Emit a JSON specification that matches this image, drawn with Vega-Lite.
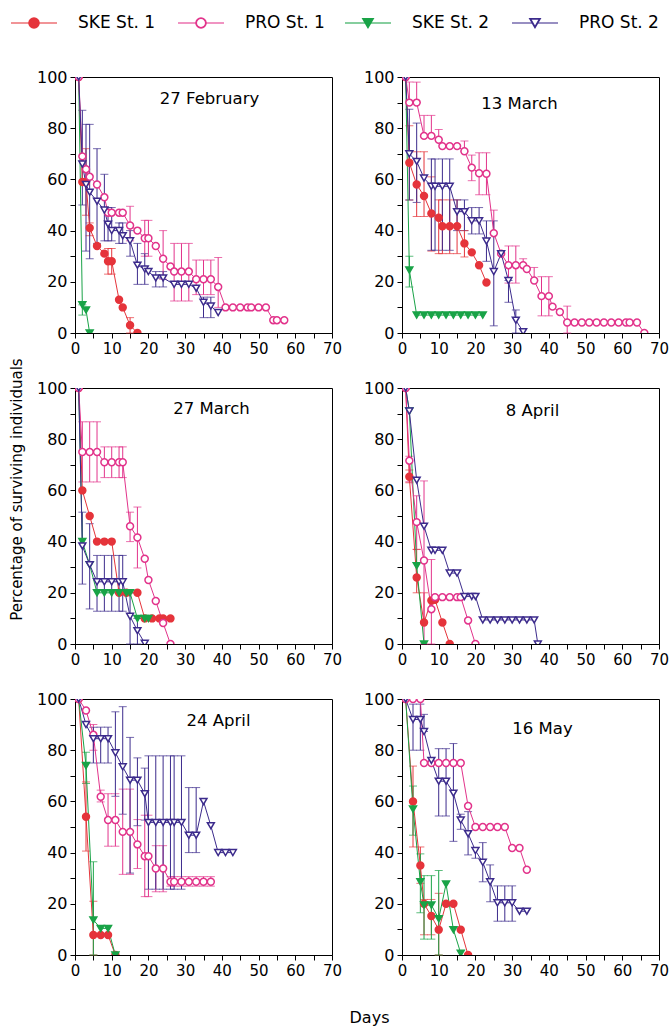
{
  "$schema": "https://vega.github.io/schema/vega-lite/v6.json",
  "padding": {"left": 8, "top": 14, "right": 8, "bottom": 4},
  "config": {
    "font": "DejaVu Sans",
    "view": {"stroke": "#000000", "strokeWidth": 1},
    "axis": {"domainColor": "#000000", "tickColor": "#000000", "labelColor": "#000000", "grid": false, "tickSize": 5, "labelFont": "DejaVu Sans", "labelFontSize": 15, "labelPadding": 3, "labelFlush": false, "labelOverlap": false, "titleFont": "DejaVu Sans", "titleFontSize": 15, "titleFontWeight": "normal", "titleColor": "#000000"},
    "axisY": {"labelFontSize": 16},
    "title": {"font": "DejaVu Sans", "fontSize": 16.5, "fontWeight": "normal", "color": "#000000", "anchor": "middle", "frame": "group", "baseline": "middle"}
  },
  "datasets": {
    "keys": [{"s": "SKE St. 1"}, {"s": "PRO St. 1"}, {"s": "SKE St. 2"}, {"s": "PRO St. 2"}],
    "surv": [
      {"p":"27 February","s":"SKE St. 1","d":1,"v":100},
      {"p":"27 February","s":"SKE St. 1","d":2,"v":59},
      {"p":"27 February","s":"SKE St. 1","d":3,"v":59,"lo":46,"hi":72},
      {"p":"27 February","s":"SKE St. 1","d":4,"v":41,"lo":38,"hi":43},
      {"p":"27 February","s":"SKE St. 1","d":6,"v":34},
      {"p":"27 February","s":"SKE St. 1","d":8,"v":31},
      {"p":"27 February","s":"SKE St. 1","d":9,"v":28,"lo":23,"hi":33},
      {"p":"27 February","s":"SKE St. 1","d":10,"v":28,"lo":23,"hi":33},
      {"p":"27 February","s":"SKE St. 1","d":12,"v":13},
      {"p":"27 February","s":"SKE St. 1","d":13,"v":10},
      {"p":"27 February","s":"SKE St. 1","d":15,"v":3,"lo":0,"hi":6},
      {"p":"27 February","s":"SKE St. 1","d":17,"v":0},
      {"p":"27 February","s":"SKE St. 2","d":1,"v":100},
      {"p":"27 February","s":"SKE St. 2","d":2,"v":11,"lo":7,"hi":11},
      {"p":"27 February","s":"SKE St. 2","d":3,"v":9},
      {"p":"27 February","s":"SKE St. 2","d":4,"v":0},
      {"p":"27 February","s":"PRO St. 1","d":1,"v":100},
      {"p":"27 February","s":"PRO St. 1","d":2,"v":69},
      {"p":"27 February","s":"PRO St. 1","d":3,"v":64},
      {"p":"27 February","s":"PRO St. 1","d":4,"v":61},
      {"p":"27 February","s":"PRO St. 1","d":6,"v":58},
      {"p":"27 February","s":"PRO St. 1","d":8,"v":53},
      {"p":"27 February","s":"PRO St. 1","d":9,"v":47},
      {"p":"27 February","s":"PRO St. 1","d":10,"v":47},
      {"p":"27 February","s":"PRO St. 1","d":12,"v":47},
      {"p":"27 February","s":"PRO St. 1","d":13,"v":47},
      {"p":"27 February","s":"PRO St. 1","d":15,"v":42,"lo":36,"hi":49.5},
      {"p":"27 February","s":"PRO St. 1","d":17,"v":40},
      {"p":"27 February","s":"PRO St. 1","d":19,"v":37,"lo":30,"hi":44},
      {"p":"27 February","s":"PRO St. 1","d":20,"v":37,"lo":30,"hi":44},
      {"p":"27 February","s":"PRO St. 1","d":22,"v":34},
      {"p":"27 February","s":"PRO St. 1","d":24,"v":29,"lo":21,"hi":40},
      {"p":"27 February","s":"PRO St. 1","d":26,"v":26},
      {"p":"27 February","s":"PRO St. 1","d":27,"v":24,"lo":12.5,"hi":35},
      {"p":"27 February","s":"PRO St. 1","d":29,"v":24,"lo":12.5,"hi":35},
      {"p":"27 February","s":"PRO St. 1","d":31,"v":24,"lo":12.5,"hi":35},
      {"p":"27 February","s":"PRO St. 1","d":33,"v":21,"lo":15,"hi":28.5},
      {"p":"27 February","s":"PRO St. 1","d":35,"v":21,"lo":15,"hi":28.5},
      {"p":"27 February","s":"PRO St. 1","d":37,"v":21,"lo":15,"hi":28.5},
      {"p":"27 February","s":"PRO St. 1","d":39,"v":18,"lo":10,"hi":29.5},
      {"p":"27 February","s":"PRO St. 1","d":41,"v":10},
      {"p":"27 February","s":"PRO St. 1","d":43,"v":10},
      {"p":"27 February","s":"PRO St. 1","d":45,"v":10},
      {"p":"27 February","s":"PRO St. 1","d":47,"v":10},
      {"p":"27 February","s":"PRO St. 1","d":48,"v":10},
      {"p":"27 February","s":"PRO St. 1","d":50,"v":10},
      {"p":"27 February","s":"PRO St. 1","d":52,"v":10},
      {"p":"27 February","s":"PRO St. 1","d":54,"v":5},
      {"p":"27 February","s":"PRO St. 1","d":55,"v":5},
      {"p":"27 February","s":"PRO St. 1","d":57,"v":5},
      {"p":"27 February","s":"PRO St. 2","d":1,"v":100},
      {"p":"27 February","s":"PRO St. 2","d":2,"v":66,"lo":50,"hi":87},
      {"p":"27 February","s":"PRO St. 2","d":3,"v":58,"lo":32,"hi":81.5},
      {"p":"27 February","s":"PRO St. 2","d":4,"v":55,"lo":29,"hi":81.5},
      {"p":"27 February","s":"PRO St. 2","d":6,"v":51.5,"lo":35,"hi":72},
      {"p":"27 February","s":"PRO St. 2","d":8,"v":48,"lo":36,"hi":62},
      {"p":"27 February","s":"PRO St. 2","d":9,"v":42.5,"lo":36,"hi":49},
      {"p":"27 February","s":"PRO St. 2","d":10,"v":40,"lo":36,"hi":49},
      {"p":"27 February","s":"PRO St. 2","d":12,"v":40,"lo":35,"hi":43},
      {"p":"27 February","s":"PRO St. 2","d":13,"v":38,"lo":35,"hi":43},
      {"p":"27 February","s":"PRO St. 2","d":15,"v":36,"lo":30,"hi":40},
      {"p":"27 February","s":"PRO St. 2","d":17,"v":26.5,"lo":19,"hi":35},
      {"p":"27 February","s":"PRO St. 2","d":19,"v":25,"lo":19,"hi":31},
      {"p":"27 February","s":"PRO St. 2","d":20,"v":24},
      {"p":"27 February","s":"PRO St. 2","d":22,"v":21.5,"lo":18,"hi":24},
      {"p":"27 February","s":"PRO St. 2","d":24,"v":21.5,"lo":18,"hi":24},
      {"p":"27 February","s":"PRO St. 2","d":27,"v":19},
      {"p":"27 February","s":"PRO St. 2","d":29,"v":19},
      {"p":"27 February","s":"PRO St. 2","d":31,"v":19},
      {"p":"27 February","s":"PRO St. 2","d":33,"v":17.5},
      {"p":"27 February","s":"PRO St. 2","d":35,"v":12,"lo":6,"hi":14},
      {"p":"27 February","s":"PRO St. 2","d":37,"v":10.5,"lo":6,"hi":14},
      {"p":"27 February","s":"PRO St. 2","d":39,"v":8},

      {"p":"13 March","s":"SKE St. 1","d":1,"v":100},
      {"p":"13 March","s":"SKE St. 1","d":2,"v":66.5,"lo":52,"hi":81},
      {"p":"13 March","s":"SKE St. 1","d":4,"v":58,"lo":45.5,"hi":70.8},
      {"p":"13 March","s":"SKE St. 1","d":6,"v":53.5,"lo":45.5,"hi":70.8},
      {"p":"13 March","s":"SKE St. 1","d":8,"v":46.7,"lo":32,"hi":61},
      {"p":"13 March","s":"SKE St. 1","d":10,"v":45,"lo":31,"hi":52},
      {"p":"13 March","s":"SKE St. 1","d":11,"v":41.7,"lo":31,"hi":52},
      {"p":"13 March","s":"SKE St. 1","d":13,"v":41.7,"lo":31,"hi":52},
      {"p":"13 March","s":"SKE St. 1","d":15,"v":41.7,"lo":31,"hi":52},
      {"p":"13 March","s":"SKE St. 1","d":17,"v":35,"lo":29.7,"hi":40},
      {"p":"13 March","s":"SKE St. 1","d":19,"v":31.5},
      {"p":"13 March","s":"SKE St. 1","d":21,"v":26.5},
      {"p":"13 March","s":"SKE St. 1","d":23,"v":19.7},
      {"p":"13 March","s":"SKE St. 2","d":1,"v":100},
      {"p":"13 March","s":"SKE St. 2","d":2,"v":24.6,"lo":18,"hi":30},
      {"p":"13 March","s":"SKE St. 2","d":4,"v":7},
      {"p":"13 March","s":"SKE St. 2","d":6,"v":7},
      {"p":"13 March","s":"SKE St. 2","d":8,"v":7},
      {"p":"13 March","s":"SKE St. 2","d":10,"v":7},
      {"p":"13 March","s":"SKE St. 2","d":12,"v":7},
      {"p":"13 March","s":"SKE St. 2","d":14,"v":7},
      {"p":"13 March","s":"SKE St. 2","d":16,"v":7},
      {"p":"13 March","s":"SKE St. 2","d":18,"v":7},
      {"p":"13 March","s":"SKE St. 2","d":20,"v":7},
      {"p":"13 March","s":"SKE St. 2","d":22,"v":7},
      {"p":"13 March","s":"PRO St. 1","d":1,"v":100},
      {"p":"13 March","s":"PRO St. 1","d":2,"v":90,"lo":90,"hi":98},
      {"p":"13 March","s":"PRO St. 1","d":4,"v":90,"lo":90,"hi":98},
      {"p":"13 March","s":"PRO St. 1","d":6,"v":77,"lo":77,"hi":85},
      {"p":"13 March","s":"PRO St. 1","d":8,"v":77,"lo":77,"hi":85},
      {"p":"13 March","s":"PRO St. 1","d":10,"v":75.5,"lo":75.5,"hi":79.5},
      {"p":"13 March","s":"PRO St. 1","d":11,"v":73},
      {"p":"13 March","s":"PRO St. 1","d":13,"v":73},
      {"p":"13 March","s":"PRO St. 1","d":15,"v":73},
      {"p":"13 March","s":"PRO St. 1","d":17,"v":71,"lo":71,"hi":75},
      {"p":"13 March","s":"PRO St. 1","d":19,"v":64.6,"lo":59.5,"hi":69.5},
      {"p":"13 March","s":"PRO St. 1","d":21,"v":62.4,"lo":54,"hi":70.4},
      {"p":"13 March","s":"PRO St. 1","d":23,"v":62.2,"lo":54,"hi":70.4},
      {"p":"13 March","s":"PRO St. 1","d":25,"v":39,"lo":39,"hi":48},
      {"p":"13 March","s":"PRO St. 1","d":27,"v":31},
      {"p":"13 March","s":"PRO St. 1","d":29,"v":26.5,"lo":19.5,"hi":34},
      {"p":"13 March","s":"PRO St. 1","d":31,"v":26.5,"lo":19.5,"hi":34},
      {"p":"13 March","s":"PRO St. 1","d":33,"v":26.5,"lo":26.5,"hi":29},
      {"p":"13 March","s":"PRO St. 1","d":34,"v":25},
      {"p":"13 March","s":"PRO St. 1","d":36,"v":20.5,"lo":20.5,"hi":25.6},
      {"p":"13 March","s":"PRO St. 1","d":38,"v":14.4,"lo":6.7,"hi":22},
      {"p":"13 March","s":"PRO St. 1","d":40,"v":14.4,"lo":6.7,"hi":22},
      {"p":"13 March","s":"PRO St. 1","d":41,"v":10.3},
      {"p":"13 March","s":"PRO St. 1","d":43,"v":8.2},
      {"p":"13 March","s":"PRO St. 1","d":45,"v":4.1,"lo":0,"hi":10.5},
      {"p":"13 March","s":"PRO St. 1","d":47,"v":4.1},
      {"p":"13 March","s":"PRO St. 1","d":49,"v":4.1},
      {"p":"13 March","s":"PRO St. 1","d":51,"v":4.1},
      {"p":"13 March","s":"PRO St. 1","d":53,"v":4.1},
      {"p":"13 March","s":"PRO St. 1","d":55,"v":4.1},
      {"p":"13 March","s":"PRO St. 1","d":57,"v":4.1},
      {"p":"13 March","s":"PRO St. 1","d":59,"v":4.1},
      {"p":"13 March","s":"PRO St. 1","d":61,"v":4.1},
      {"p":"13 March","s":"PRO St. 1","d":62,"v":4.1},
      {"p":"13 March","s":"PRO St. 1","d":64,"v":4.1},
      {"p":"13 March","s":"PRO St. 1","d":66,"v":0},
      {"p":"13 March","s":"PRO St. 2","d":1,"v":100},
      {"p":"13 March","s":"PRO St. 2","d":2,"v":70,"lo":52,"hi":87.4},
      {"p":"13 March","s":"PRO St. 2","d":4,"v":67,"lo":51,"hi":82},
      {"p":"13 March","s":"PRO St. 2","d":6,"v":60.5},
      {"p":"13 March","s":"PRO St. 2","d":8,"v":57.3,"lo":32.3,"hi":68},
      {"p":"13 March","s":"PRO St. 2","d":9,"v":57.3,"lo":32.3,"hi":68},
      {"p":"13 March","s":"PRO St. 2","d":11,"v":57.3,"lo":32.3,"hi":68},
      {"p":"13 March","s":"PRO St. 2","d":13,"v":57.3,"lo":32.3,"hi":68},
      {"p":"13 March","s":"PRO St. 2","d":15,"v":47.4,"lo":40,"hi":52},
      {"p":"13 March","s":"PRO St. 2","d":17,"v":47.4,"lo":40,"hi":52},
      {"p":"13 March","s":"PRO St. 2","d":19,"v":43.8,"lo":38.7,"hi":49},
      {"p":"13 March","s":"PRO St. 2","d":21,"v":43.8,"lo":38.7,"hi":49},
      {"p":"13 March","s":"PRO St. 2","d":23,"v":35.9,"lo":28,"hi":43.8},
      {"p":"13 March","s":"PRO St. 2","d":25,"v":24,"lo":2.8,"hi":43.8},
      {"p":"13 March","s":"PRO St. 2","d":27,"v":31},
      {"p":"13 March","s":"PRO St. 2","d":29,"v":20.5,"lo":12,"hi":20.5},
      {"p":"13 March","s":"PRO St. 2","d":31,"v":5,"lo":0,"hi":9},
      {"p":"13 March","s":"PRO St. 2","d":33,"v":0.5},

      {"p":"27 March","s":"SKE St. 1","d":1,"v":100},
      {"p":"27 March","s":"SKE St. 1","d":2,"v":60},
      {"p":"27 March","s":"SKE St. 1","d":4,"v":50},
      {"p":"27 March","s":"SKE St. 1","d":6,"v":40},
      {"p":"27 March","s":"SKE St. 1","d":8,"v":40},
      {"p":"27 March","s":"SKE St. 1","d":10,"v":40},
      {"p":"27 March","s":"SKE St. 1","d":12,"v":20},
      {"p":"27 March","s":"SKE St. 1","d":14,"v":20},
      {"p":"27 March","s":"SKE St. 1","d":17,"v":20},
      {"p":"27 March","s":"SKE St. 1","d":19,"v":10},
      {"p":"27 March","s":"SKE St. 1","d":21,"v":10},
      {"p":"27 March","s":"SKE St. 1","d":23,"v":10},
      {"p":"27 March","s":"SKE St. 1","d":24,"v":10},
      {"p":"27 March","s":"SKE St. 1","d":26,"v":10},
      {"p":"27 March","s":"SKE St. 2","d":1,"v":100},
      {"p":"27 March","s":"SKE St. 2","d":2,"v":40},
      {"p":"27 March","s":"SKE St. 2","d":4,"v":31},
      {"p":"27 March","s":"SKE St. 2","d":6,"v":20},
      {"p":"27 March","s":"SKE St. 2","d":8,"v":20},
      {"p":"27 March","s":"SKE St. 2","d":10,"v":20},
      {"p":"27 March","s":"SKE St. 2","d":12,"v":20},
      {"p":"27 March","s":"SKE St. 2","d":14,"v":20},
      {"p":"27 March","s":"SKE St. 2","d":15,"v":20},
      {"p":"27 March","s":"SKE St. 2","d":17,"v":10},
      {"p":"27 March","s":"SKE St. 2","d":19,"v":10},
      {"p":"27 March","s":"SKE St. 2","d":20,"v":10},
      {"p":"27 March","s":"PRO St. 1","d":1,"v":100},
      {"p":"27 March","s":"PRO St. 1","d":2,"v":75,"lo":63.3,"hi":86.8},
      {"p":"27 March","s":"PRO St. 1","d":4,"v":75,"lo":63.3,"hi":86.8},
      {"p":"27 March","s":"PRO St. 1","d":6,"v":75,"lo":63.3,"hi":86.8},
      {"p":"27 March","s":"PRO St. 1","d":8,"v":71,"lo":65,"hi":77},
      {"p":"27 March","s":"PRO St. 1","d":10,"v":71,"lo":65,"hi":77},
      {"p":"27 March","s":"PRO St. 1","d":12,"v":71,"lo":65,"hi":77},
      {"p":"27 March","s":"PRO St. 1","d":13,"v":71,"lo":65,"hi":77},
      {"p":"27 March","s":"PRO St. 1","d":15,"v":46,"lo":40,"hi":51.5},
      {"p":"27 March","s":"PRO St. 1","d":17,"v":41.6,"lo":29.7,"hi":53.5},
      {"p":"27 March","s":"PRO St. 1","d":19,"v":33.3},
      {"p":"27 March","s":"PRO St. 1","d":20,"v":25},
      {"p":"27 March","s":"PRO St. 1","d":22,"v":16.8},
      {"p":"27 March","s":"PRO St. 1","d":24,"v":8.2},
      {"p":"27 March","s":"PRO St. 1","d":26,"v":0},
      {"p":"27 March","s":"PRO St. 2","d":1,"v":100},
      {"p":"27 March","s":"PRO St. 2","d":2,"v":38.3,"lo":23.4,"hi":51.5},
      {"p":"27 March","s":"PRO St. 2","d":4,"v":31,"lo":13.7,"hi":47},
      {"p":"27 March","s":"PRO St. 2","d":6,"v":24.3,"lo":12.8,"hi":34.6},
      {"p":"27 March","s":"PRO St. 2","d":8,"v":24.3,"lo":12.8,"hi":34.6},
      {"p":"27 March","s":"PRO St. 2","d":10,"v":24.3,"lo":12.8,"hi":34.6},
      {"p":"27 March","s":"PRO St. 2","d":12,"v":24.3,"lo":12.8,"hi":34.6},
      {"p":"27 March","s":"PRO St. 2","d":13,"v":24.3,"lo":12.8,"hi":34.6},
      {"p":"27 March","s":"PRO St. 2","d":15,"v":10.8,"lo":0,"hi":20},
      {"p":"27 March","s":"PRO St. 2","d":17,"v":5.2,"lo":0,"hi":10},
      {"p":"27 March","s":"PRO St. 2","d":19,"v":0.3},

      {"p":"8 April","s":"SKE St. 1","d":1,"v":100},
      {"p":"8 April","s":"SKE St. 1","d":2,"v":65.3,"lo":63,"hi":68},
      {"p":"8 April","s":"SKE St. 1","d":4,"v":26,"lo":20,"hi":37},
      {"p":"8 April","s":"SKE St. 1","d":6,"v":8.4,"lo":8.4,"hi":20},
      {"p":"8 April","s":"SKE St. 1","d":8,"v":17},
      {"p":"8 April","s":"SKE St. 1","d":9,"v":17.3},
      {"p":"8 April","s":"SKE St. 1","d":11,"v":8.4},
      {"p":"8 April","s":"SKE St. 1","d":13,"v":0},
      {"p":"8 April","s":"SKE St. 2","d":1,"v":100},
      {"p":"8 April","s":"SKE St. 2","d":2,"v":91},
      {"p":"8 April","s":"SKE St. 2","d":4,"v":30.6},
      {"p":"8 April","s":"SKE St. 2","d":6,"v":0},
      {"p":"8 April","s":"PRO St. 1","d":1,"v":100},
      {"p":"8 April","s":"PRO St. 1","d":2,"v":71.6,"lo":63.4,"hi":73.3},
      {"p":"8 April","s":"PRO St. 1","d":4,"v":47.6,"lo":36.9,"hi":57.9},
      {"p":"8 April","s":"PRO St. 1","d":6,"v":32.6,"lo":0,"hi":63.7},
      {"p":"8 April","s":"PRO St. 1","d":8,"v":13.6,"lo":0,"hi":33},
      {"p":"8 April","s":"PRO St. 1","d":9,"v":18.3},
      {"p":"8 April","s":"PRO St. 1","d":11,"v":18.3},
      {"p":"8 April","s":"PRO St. 1","d":13,"v":18.3},
      {"p":"8 April","s":"PRO St. 1","d":15,"v":18.3},
      {"p":"8 April","s":"PRO St. 1","d":16,"v":18.3},
      {"p":"8 April","s":"PRO St. 1","d":18,"v":9.2},
      {"p":"8 April","s":"PRO St. 1","d":20,"v":0},
      {"p":"8 April","s":"PRO St. 2","d":1,"v":100},
      {"p":"8 April","s":"PRO St. 2","d":2,"v":91},
      {"p":"8 April","s":"PRO St. 2","d":4,"v":64},
      {"p":"8 April","s":"PRO St. 2","d":6,"v":46},
      {"p":"8 April","s":"PRO St. 2","d":8,"v":36.6},
      {"p":"8 April","s":"PRO St. 2","d":9,"v":36.6},
      {"p":"8 April","s":"PRO St. 2","d":11,"v":36.6},
      {"p":"8 April","s":"PRO St. 2","d":13,"v":27.7},
      {"p":"8 April","s":"PRO St. 2","d":15,"v":27.7},
      {"p":"8 April","s":"PRO St. 2","d":17,"v":18.6},
      {"p":"8 April","s":"PRO St. 2","d":19,"v":18.6},
      {"p":"8 April","s":"PRO St. 2","d":20,"v":18.6},
      {"p":"8 April","s":"PRO St. 2","d":22,"v":9.4},
      {"p":"8 April","s":"PRO St. 2","d":24,"v":9.4},
      {"p":"8 April","s":"PRO St. 2","d":26,"v":9.4},
      {"p":"8 April","s":"PRO St. 2","d":28,"v":9.4},
      {"p":"8 April","s":"PRO St. 2","d":30,"v":9.4},
      {"p":"8 April","s":"PRO St. 2","d":32,"v":9.4},
      {"p":"8 April","s":"PRO St. 2","d":34,"v":9.4},
      {"p":"8 April","s":"PRO St. 2","d":36,"v":9.4},
      {"p":"8 April","s":"PRO St. 2","d":37,"v":0},

      {"p":"24 April","s":"SKE St. 1","d":1,"v":100},
      {"p":"24 April","s":"SKE St. 1","d":3,"v":54,"lo":40.6,"hi":67.6},
      {"p":"24 April","s":"SKE St. 1","d":5,"v":7.8,"lo":0,"hi":21},
      {"p":"24 April","s":"SKE St. 1","d":7,"v":7.8},
      {"p":"24 April","s":"SKE St. 1","d":9,"v":7.8},
      {"p":"24 April","s":"SKE St. 1","d":11,"v":0},
      {"p":"24 April","s":"SKE St. 2","d":1,"v":100},
      {"p":"24 April","s":"SKE St. 2","d":3,"v":74,"lo":67,"hi":79.2},
      {"p":"24 April","s":"SKE St. 2","d":5,"v":13.7,"lo":0,"hi":36.4},
      {"p":"24 April","s":"SKE St. 2","d":7,"v":10.4},
      {"p":"24 April","s":"SKE St. 2","d":9,"v":10.4},
      {"p":"24 April","s":"SKE St. 2","d":11,"v":0},
      {"p":"24 April","s":"PRO St. 1","d":1,"v":100},
      {"p":"24 April","s":"PRO St. 1","d":3,"v":95.5},
      {"p":"24 April","s":"PRO St. 1","d":5,"v":86,"lo":80,"hi":90},
      {"p":"24 April","s":"PRO St. 1","d":7,"v":61.8,"lo":59.8,"hi":64.4},
      {"p":"24 April","s":"PRO St. 1","d":9,"v":52.7,"lo":42.5,"hi":63},
      {"p":"24 April","s":"PRO St. 1","d":11,"v":52.7,"lo":42.5,"hi":63},
      {"p":"24 April","s":"PRO St. 1","d":13,"v":48.1,"lo":31.5,"hi":64.8},
      {"p":"24 April","s":"PRO St. 1","d":15,"v":48.1,"lo":31.5,"hi":64.8},
      {"p":"24 April","s":"PRO St. 1","d":17,"v":43.2,"lo":33.8,"hi":52.9},
      {"p":"24 April","s":"PRO St. 1","d":19,"v":38.6,"lo":22.8,"hi":54.6},
      {"p":"24 April","s":"PRO St. 1","d":20,"v":38.6,"lo":22.8,"hi":54.6},
      {"p":"24 April","s":"PRO St. 1","d":22,"v":33.8,"lo":24.7,"hi":42.7},
      {"p":"24 April","s":"PRO St. 1","d":24,"v":33.8,"lo":24.7,"hi":42.7},
      {"p":"24 April","s":"PRO St. 1","d":26,"v":28.6,"lo":26.9,"hi":30.6},
      {"p":"24 April","s":"PRO St. 1","d":27,"v":28.6,"lo":26.9,"hi":30.6},
      {"p":"24 April","s":"PRO St. 1","d":29,"v":28.6,"lo":26.9,"hi":30.6},
      {"p":"24 April","s":"PRO St. 1","d":31,"v":28.6,"lo":26.9,"hi":30.6},
      {"p":"24 April","s":"PRO St. 1","d":33,"v":28.6,"lo":26.9,"hi":30.6},
      {"p":"24 April","s":"PRO St. 1","d":35,"v":28.6,"lo":26.9,"hi":30.6},
      {"p":"24 April","s":"PRO St. 1","d":37,"v":28.6,"lo":26.9,"hi":30.6},
      {"p":"24 April","s":"PRO St. 2","d":1,"v":100},
      {"p":"24 April","s":"PRO St. 2","d":3,"v":90},
      {"p":"24 April","s":"PRO St. 2","d":5,"v":84.5,"lo":75,"hi":89},
      {"p":"24 April","s":"PRO St. 2","d":7,"v":84.5,"lo":75,"hi":89},
      {"p":"24 April","s":"PRO St. 2","d":9,"v":84.5,"lo":75,"hi":89},
      {"p":"24 April","s":"PRO St. 2","d":11,"v":79,"lo":62,"hi":95},
      {"p":"24 April","s":"PRO St. 2","d":13,"v":73.5,"lo":55,"hi":97},
      {"p":"24 April","s":"PRO St. 2","d":15,"v":68.3,"lo":32,"hi":85},
      {"p":"24 April","s":"PRO St. 2","d":17,"v":68.3,"lo":50.5,"hi":77},
      {"p":"24 April","s":"PRO St. 2","d":19,"v":63,"lo":52.7,"hi":73},
      {"p":"24 April","s":"PRO St. 2","d":20,"v":51.8,"lo":25.7,"hi":77.8},
      {"p":"24 April","s":"PRO St. 2","d":22,"v":51.8,"lo":25.7,"hi":77.8},
      {"p":"24 April","s":"PRO St. 2","d":24,"v":51.8,"lo":25.7,"hi":77.8},
      {"p":"24 April","s":"PRO St. 2","d":26,"v":51.8,"lo":25.7,"hi":77.8},
      {"p":"24 April","s":"PRO St. 2","d":27,"v":51.8,"lo":25.7,"hi":77.8},
      {"p":"24 April","s":"PRO St. 2","d":29,"v":51.8,"lo":25.7,"hi":77.8},
      {"p":"24 April","s":"PRO St. 2","d":31,"v":46.8,"lo":40,"hi":65.4},
      {"p":"24 April","s":"PRO St. 2","d":33,"v":46.8,"lo":40,"hi":65.4},
      {"p":"24 April","s":"PRO St. 2","d":35,"v":60},
      {"p":"24 April","s":"PRO St. 2","d":37,"v":50.5},
      {"p":"24 April","s":"PRO St. 2","d":39,"v":40},
      {"p":"24 April","s":"PRO St. 2","d":41,"v":40},
      {"p":"24 April","s":"PRO St. 2","d":43,"v":40},

      {"p":"16 May","s":"SKE St. 1","d":1,"v":100},
      {"p":"16 May","s":"SKE St. 1","d":3,"v":60,"lo":42.2,"hi":73.8},
      {"p":"16 May","s":"SKE St. 1","d":5,"v":35,"lo":28,"hi":42.2},
      {"p":"16 May","s":"SKE St. 1","d":6,"v":20,"lo":7.9,"hi":21.7},
      {"p":"16 May","s":"SKE St. 1","d":8,"v":15.2,"lo":7.9,"hi":21.7},
      {"p":"16 May","s":"SKE St. 1","d":10,"v":9.9,"lo":0,"hi":24.1},
      {"p":"16 May","s":"SKE St. 1","d":12,"v":20},
      {"p":"16 May","s":"SKE St. 1","d":14,"v":20},
      {"p":"16 May","s":"SKE St. 1","d":16,"v":9.9},
      {"p":"16 May","s":"SKE St. 1","d":18,"v":0},
      {"p":"16 May","s":"SKE St. 2","d":1,"v":100},
      {"p":"16 May","s":"SKE St. 2","d":3,"v":57,"lo":46.8,"hi":66},
      {"p":"16 May","s":"SKE St. 2","d":5,"v":28.6,"lo":16.5,"hi":39.5},
      {"p":"16 May","s":"SKE St. 2","d":6,"v":19.5,"lo":6.2,"hi":31},
      {"p":"16 May","s":"SKE St. 2","d":8,"v":19.5,"lo":6.2,"hi":31},
      {"p":"16 May","s":"SKE St. 2","d":10,"v":14.2,"lo":0,"hi":33},
      {"p":"16 May","s":"SKE St. 2","d":12,"v":27.7},
      {"p":"16 May","s":"SKE St. 2","d":14,"v":9.9},
      {"p":"16 May","s":"SKE St. 2","d":16,"v":0.7},
      {"p":"16 May","s":"PRO St. 1","d":1,"v":100},
      {"p":"16 May","s":"PRO St. 1","d":3,"v":100},
      {"p":"16 May","s":"PRO St. 1","d":5,"v":100},
      {"p":"16 May","s":"PRO St. 1","d":6,"v":75},
      {"p":"16 May","s":"PRO St. 1","d":8,"v":75},
      {"p":"16 May","s":"PRO St. 1","d":10,"v":75},
      {"p":"16 May","s":"PRO St. 1","d":12,"v":75},
      {"p":"16 May","s":"PRO St. 1","d":14,"v":75},
      {"p":"16 May","s":"PRO St. 1","d":16,"v":75},
      {"p":"16 May","s":"PRO St. 1","d":18,"v":58.2},
      {"p":"16 May","s":"PRO St. 1","d":20,"v":50},
      {"p":"16 May","s":"PRO St. 1","d":22,"v":50},
      {"p":"16 May","s":"PRO St. 1","d":24,"v":50},
      {"p":"16 May","s":"PRO St. 1","d":26,"v":50},
      {"p":"16 May","s":"PRO St. 1","d":28,"v":50},
      {"p":"16 May","s":"PRO St. 1","d":30,"v":41.8},
      {"p":"16 May","s":"PRO St. 1","d":32,"v":41.8},
      {"p":"16 May","s":"PRO St. 1","d":34,"v":33.3},
      {"p":"16 May","s":"PRO St. 2","d":1,"v":100},
      {"p":"16 May","s":"PRO St. 2","d":3,"v":92,"lo":80,"hi":98},
      {"p":"16 May","s":"PRO St. 2","d":5,"v":92,"lo":80,"hi":98},
      {"p":"16 May","s":"PRO St. 2","d":6,"v":87.3,"lo":87.3,"hi":94},
      {"p":"16 May","s":"PRO St. 2","d":8,"v":76},
      {"p":"16 May","s":"PRO St. 2","d":10,"v":67.9,"lo":54.3,"hi":80.6},
      {"p":"16 May","s":"PRO St. 2","d":12,"v":67.9,"lo":54.3,"hi":80.6},
      {"p":"16 May","s":"PRO St. 2","d":14,"v":63.2,"lo":44.4,"hi":82.6},
      {"p":"16 May","s":"PRO St. 2","d":16,"v":52.7,"lo":49.1,"hi":55},
      {"p":"16 May","s":"PRO St. 2","d":18,"v":47.4,"lo":39.1,"hi":56},
      {"p":"16 May","s":"PRO St. 2","d":20,"v":40.8,"lo":37.8,"hi":42},
      {"p":"16 May","s":"PRO St. 2","d":22,"v":36.2,"lo":28.6,"hi":43.9},
      {"p":"16 May","s":"PRO St. 2","d":24,"v":28.6,"lo":20.8,"hi":35.2},
      {"p":"16 May","s":"PRO St. 2","d":26,"v":20.4,"lo":13.2,"hi":27},
      {"p":"16 May","s":"PRO St. 2","d":28,"v":20.4,"lo":13.2,"hi":27},
      {"p":"16 May","s":"PRO St. 2","d":30,"v":20.4,"lo":13.2,"hi":27},
      {"p":"16 May","s":"PRO St. 2","d":32,"v":17.1},
      {"p":"16 May","s":"PRO St. 2","d":34,"v":17.1}
    ]
  },
  "spacing": 46,
  "bounds": "flush",
  "vconcat": [
    {
      "width": 500,
      "height": 16,
      "view": {"stroke": null},
      "data": {"name": "keys"},
      "encoding": {"x": {"field": "s", "type": "nominal", "sort": null, "scale": {"type": "point", "padding": 0, "domain": ["SKE St. 1", "PRO St. 1", "SKE St. 2", "PRO St. 2"], "range": [-41, 460]}, "axis": null}},
      "layer": [
        {"mark": {"type": "tick", "orient": "horizontal", "size": 46, "thickness": 1.5}, "encoding": {"color": {"field": "s", "type": "nominal", "scale": {"domain": ["SKE St. 1", "PRO St. 1", "SKE St. 2", "PRO St. 2"], "range": ["#e5343b", "#e2338b", "#19a347", "#3c2b8c"]}, "legend": null}}},
        {"mark": {"type": "point", "filled": true, "strokeWidth": 1.8, "opacity": 1, "size": 95}, "encoding": {
          "shape": {"field": "s", "type": "nominal", "scale": {"domain": ["SKE St. 1", "PRO St. 1", "SKE St. 2", "PRO St. 2"], "range": ["circle", "circle", "triangle-down", "triangle-down"]}, "legend": null},
          "fill": {"field": "s", "type": "nominal", "scale": {"domain": ["SKE St. 1", "PRO St. 1", "SKE St. 2", "PRO St. 2"], "range": ["#e5343b", "#ffffff", "#19a347", "#ffffff"]}, "legend": null},
          "stroke": {"field": "s", "type": "nominal", "scale": {"domain": ["SKE St. 1", "PRO St. 1", "SKE St. 2", "PRO St. 2"], "range": ["#e5343b", "#e2338b", "#19a347", "#3c2b8c"]}, "legend": null}}},
        {"mark": {"type": "text", "align": "left", "baseline": "middle", "dx": 44, "fontSize": 17, "font": "DejaVu Sans", "color": "#000000"}, "encoding": {"text": {"field": "s"}}}
      ]
    },
    {
      "data": {"name": "surv"},
      "columns": 2,
      "spacing": {"row": 55, "column": 70},
      "bounds": "flush",
      "concat": [
        {
          "width": 257, "height": 256,
          "title": {"text": "27 February", "dx": 6, "offset": -38},
          "transform": [{"filter": {"field": "p", "equal": "27 February"}}],
          "encoding": {"x": {"field": "d", "type": "quantitative", "scale": {"domain": [0, 70], "nice": false}, "axis": {"title": null, "values": [0,5,10,15,20,25,30,35,40,45,50,55,60,65,70], "labelExpr": "datum.value % 10 === 0 ? datum.label : ''"}}},
          "layer": [
            {"transform": [{"filter": "isValid(datum.lo)"}], "mark": {"type": "errorbar", "ticks": {"size": 8}, "thickness": 1}, "encoding": {"y": {"field": "lo", "type": "quantitative", "scale": {"domain": [0, 100], "nice": false}, "axis": {"title": null, "values": [0,10,20,30,40,50,60,70,80,90,100], "labelExpr": "datum.value % 20 === 0 ? datum.label : ''"}}, "y2": {"field": "hi"}, "color": {"field": "s", "type": "nominal", "scale": {"domain": ["SKE St. 1", "PRO St. 1", "SKE St. 2", "PRO St. 2"], "range": ["#e5343b", "#e2338b", "#19a347", "#3c2b8c"]}, "legend": null}}},
            {"mark": {"type": "line", "strokeWidth": 1, "clip": true}, "encoding": {"y": {"field": "v", "type": "quantitative", "scale": {"domain": [0, 100], "nice": false}, "axis": {"title": null, "values": [0,10,20,30,40,50,60,70,80,90,100], "labelExpr": "datum.value % 20 === 0 ? datum.label : ''"}}, "color": {"field": "s", "type": "nominal", "scale": {"domain": ["SKE St. 1", "PRO St. 1", "SKE St. 2", "PRO St. 2"], "range": ["#e5343b", "#e2338b", "#19a347", "#3c2b8c"]}, "legend": null}}},
            {"mark": {"type": "point", "filled": true, "strokeWidth": 1.5, "opacity": 1, "size": 48, "clip": true}, "encoding": {"y": {"field": "v", "type": "quantitative", "scale": {"domain": [0, 100], "nice": false}, "axis": {"title": null, "values": [0,10,20,30,40,50,60,70,80,90,100], "labelExpr": "datum.value % 20 === 0 ? datum.label : ''"}},
              "shape": {"field": "s", "type": "nominal", "scale": {"domain": ["SKE St. 1", "PRO St. 1", "SKE St. 2", "PRO St. 2"], "range": ["circle", "circle", "triangle-down", "triangle-down"]}, "legend": null},
              "fill": {"field": "s", "type": "nominal", "scale": {"domain": ["SKE St. 1", "PRO St. 1", "SKE St. 2", "PRO St. 2"], "range": ["#e5343b", "#ffffff", "#19a347", "#ffffff"]}, "legend": null},
              "stroke": {"field": "s", "type": "nominal", "scale": {"domain": ["SKE St. 1", "PRO St. 1", "SKE St. 2", "PRO St. 2"], "range": ["#e5343b", "#e2338b", "#19a347", "#3c2b8c"]}, "legend": null}}}
          ]
        },
        {
          "width": 257, "height": 256,
          "title": {"text": "13 March", "dx": -11, "offset": -43},
          "transform": [{"filter": {"field": "p", "equal": "13 March"}}],
          "encoding": {"x": {"field": "d", "type": "quantitative", "scale": {"domain": [0, 70], "nice": false}, "axis": {"title": null, "values": [0,5,10,15,20,25,30,35,40,45,50,55,60,65,70], "labelExpr": "datum.value % 10 === 0 ? datum.label : ''"}}},
          "layer": [
            {"transform": [{"filter": "isValid(datum.lo)"}], "mark": {"type": "errorbar", "ticks": {"size": 8}, "thickness": 1}, "encoding": {"y": {"field": "lo", "type": "quantitative", "scale": {"domain": [0, 100], "nice": false}, "axis": {"title": null, "values": [0,10,20,30,40,50,60,70,80,90,100], "labelExpr": "datum.value % 20 === 0 ? datum.label : ''"}}, "y2": {"field": "hi"}, "color": {"field": "s", "type": "nominal", "scale": {"domain": ["SKE St. 1", "PRO St. 1", "SKE St. 2", "PRO St. 2"], "range": ["#e5343b", "#e2338b", "#19a347", "#3c2b8c"]}, "legend": null}}},
            {"mark": {"type": "line", "strokeWidth": 1, "clip": true}, "encoding": {"y": {"field": "v", "type": "quantitative", "scale": {"domain": [0, 100], "nice": false}, "axis": {"title": null, "values": [0,10,20,30,40,50,60,70,80,90,100], "labelExpr": "datum.value % 20 === 0 ? datum.label : ''"}}, "color": {"field": "s", "type": "nominal", "scale": {"domain": ["SKE St. 1", "PRO St. 1", "SKE St. 2", "PRO St. 2"], "range": ["#e5343b", "#e2338b", "#19a347", "#3c2b8c"]}, "legend": null}}},
            {"mark": {"type": "point", "filled": true, "strokeWidth": 1.5, "opacity": 1, "size": 48, "clip": true}, "encoding": {"y": {"field": "v", "type": "quantitative", "scale": {"domain": [0, 100], "nice": false}, "axis": {"title": null, "values": [0,10,20,30,40,50,60,70,80,90,100], "labelExpr": "datum.value % 20 === 0 ? datum.label : ''"}},
              "shape": {"field": "s", "type": "nominal", "scale": {"domain": ["SKE St. 1", "PRO St. 1", "SKE St. 2", "PRO St. 2"], "range": ["circle", "circle", "triangle-down", "triangle-down"]}, "legend": null},
              "fill": {"field": "s", "type": "nominal", "scale": {"domain": ["SKE St. 1", "PRO St. 1", "SKE St. 2", "PRO St. 2"], "range": ["#e5343b", "#ffffff", "#19a347", "#ffffff"]}, "legend": null},
              "stroke": {"field": "s", "type": "nominal", "scale": {"domain": ["SKE St. 1", "PRO St. 1", "SKE St. 2", "PRO St. 2"], "range": ["#e5343b", "#e2338b", "#19a347", "#3c2b8c"]}, "legend": null}}}
          ]
        },
        {
          "width": 257, "height": 256,
          "title": {"text": "27 March", "dx": 8, "offset": -60},
          "transform": [{"filter": {"field": "p", "equal": "27 March"}}],
          "encoding": {"x": {"field": "d", "type": "quantitative", "scale": {"domain": [0, 70], "nice": false}, "axis": {"title": null, "values": [0,5,10,15,20,25,30,35,40,45,50,55,60,65,70], "labelExpr": "datum.value % 10 === 0 ? datum.label : ''"}}},
          "layer": [
            {"transform": [{"filter": "isValid(datum.lo)"}], "mark": {"type": "errorbar", "ticks": {"size": 8}, "thickness": 1}, "encoding": {"y": {"field": "lo", "type": "quantitative", "scale": {"domain": [0, 100], "nice": false}, "axis": {"title": "Percentage of surviving individuals", "titleY": 101, "titlePadding": 12, "values": [0,10,20,30,40,50,60,70,80,90,100], "labelExpr": "datum.value % 20 === 0 ? datum.label : ''"}}, "y2": {"field": "hi"}, "color": {"field": "s", "type": "nominal", "scale": {"domain": ["SKE St. 1", "PRO St. 1", "SKE St. 2", "PRO St. 2"], "range": ["#e5343b", "#e2338b", "#19a347", "#3c2b8c"]}, "legend": null}}},
            {"mark": {"type": "line", "strokeWidth": 1, "clip": true}, "encoding": {"y": {"field": "v", "type": "quantitative", "scale": {"domain": [0, 100], "nice": false}, "axis": {"title": "Percentage of surviving individuals", "titleY": 101, "titlePadding": 12, "values": [0,10,20,30,40,50,60,70,80,90,100], "labelExpr": "datum.value % 20 === 0 ? datum.label : ''"}}, "color": {"field": "s", "type": "nominal", "scale": {"domain": ["SKE St. 1", "PRO St. 1", "SKE St. 2", "PRO St. 2"], "range": ["#e5343b", "#e2338b", "#19a347", "#3c2b8c"]}, "legend": null}}},
            {"mark": {"type": "point", "filled": true, "strokeWidth": 1.5, "opacity": 1, "size": 48, "clip": true}, "encoding": {"y": {"field": "v", "type": "quantitative", "scale": {"domain": [0, 100], "nice": false}, "axis": {"title": "Percentage of surviving individuals", "titleY": 101, "titlePadding": 12, "values": [0,10,20,30,40,50,60,70,80,90,100], "labelExpr": "datum.value % 20 === 0 ? datum.label : ''"}},
              "shape": {"field": "s", "type": "nominal", "scale": {"domain": ["SKE St. 1", "PRO St. 1", "SKE St. 2", "PRO St. 2"], "range": ["circle", "circle", "triangle-down", "triangle-down"]}, "legend": null},
              "fill": {"field": "s", "type": "nominal", "scale": {"domain": ["SKE St. 1", "PRO St. 1", "SKE St. 2", "PRO St. 2"], "range": ["#e5343b", "#ffffff", "#19a347", "#ffffff"]}, "legend": null},
              "stroke": {"field": "s", "type": "nominal", "scale": {"domain": ["SKE St. 1", "PRO St. 1", "SKE St. 2", "PRO St. 2"], "range": ["#e5343b", "#e2338b", "#19a347", "#3c2b8c"]}, "legend": null}}}
          ]
        },
        {
          "width": 257, "height": 256,
          "title": {"text": "8 April", "dx": 2, "offset": -39},
          "transform": [{"filter": {"field": "p", "equal": "8 April"}}],
          "encoding": {"x": {"field": "d", "type": "quantitative", "scale": {"domain": [0, 70], "nice": false}, "axis": {"title": null, "values": [0,5,10,15,20,25,30,35,40,45,50,55,60,65,70], "labelExpr": "datum.value % 10 === 0 ? datum.label : ''"}}},
          "layer": [
            {"transform": [{"filter": "isValid(datum.lo)"}], "mark": {"type": "errorbar", "ticks": {"size": 8}, "thickness": 1}, "encoding": {"y": {"field": "lo", "type": "quantitative", "scale": {"domain": [0, 100], "nice": false}, "axis": {"title": null, "values": [0,10,20,30,40,50,60,70,80,90,100], "labelExpr": "datum.value % 20 === 0 ? datum.label : ''"}}, "y2": {"field": "hi"}, "color": {"field": "s", "type": "nominal", "scale": {"domain": ["SKE St. 1", "PRO St. 1", "SKE St. 2", "PRO St. 2"], "range": ["#e5343b", "#e2338b", "#19a347", "#3c2b8c"]}, "legend": null}}},
            {"mark": {"type": "line", "strokeWidth": 1, "clip": true}, "encoding": {"y": {"field": "v", "type": "quantitative", "scale": {"domain": [0, 100], "nice": false}, "axis": {"title": null, "values": [0,10,20,30,40,50,60,70,80,90,100], "labelExpr": "datum.value % 20 === 0 ? datum.label : ''"}}, "color": {"field": "s", "type": "nominal", "scale": {"domain": ["SKE St. 1", "PRO St. 1", "SKE St. 2", "PRO St. 2"], "range": ["#e5343b", "#e2338b", "#19a347", "#3c2b8c"]}, "legend": null}}},
            {"mark": {"type": "point", "filled": true, "strokeWidth": 1.5, "opacity": 1, "size": 48, "clip": true}, "encoding": {"y": {"field": "v", "type": "quantitative", "scale": {"domain": [0, 100], "nice": false}, "axis": {"title": null, "values": [0,10,20,30,40,50,60,70,80,90,100], "labelExpr": "datum.value % 20 === 0 ? datum.label : ''"}},
              "shape": {"field": "s", "type": "nominal", "scale": {"domain": ["SKE St. 1", "PRO St. 1", "SKE St. 2", "PRO St. 2"], "range": ["circle", "circle", "triangle-down", "triangle-down"]}, "legend": null},
              "fill": {"field": "s", "type": "nominal", "scale": {"domain": ["SKE St. 1", "PRO St. 1", "SKE St. 2", "PRO St. 2"], "range": ["#e5343b", "#ffffff", "#19a347", "#ffffff"]}, "legend": null},
              "stroke": {"field": "s", "type": "nominal", "scale": {"domain": ["SKE St. 1", "PRO St. 1", "SKE St. 2", "PRO St. 2"], "range": ["#e5343b", "#e2338b", "#19a347", "#3c2b8c"]}, "legend": null}}}
          ]
        },
        {
          "width": 257, "height": 256,
          "title": {"text": "24 April", "dx": 15, "offset": -38},
          "transform": [{"filter": {"field": "p", "equal": "24 April"}}],
          "encoding": {"x": {"field": "d", "type": "quantitative", "scale": {"domain": [0, 70], "nice": false}, "axis": {"title": "Days", "titleX": 294, "titleY": 62, "titleBaseline": "middle", "titleFontSize": 16, "values": [0,5,10,15,20,25,30,35,40,45,50,55,60,65,70], "labelExpr": "datum.value % 10 === 0 ? datum.label : ''"}}},
          "layer": [
            {"transform": [{"filter": "isValid(datum.lo)"}], "mark": {"type": "errorbar", "ticks": {"size": 8}, "thickness": 1}, "encoding": {"y": {"field": "lo", "type": "quantitative", "scale": {"domain": [0, 100], "nice": false}, "axis": {"title": null, "values": [0,10,20,30,40,50,60,70,80,90,100], "labelExpr": "datum.value % 20 === 0 ? datum.label : ''"}}, "y2": {"field": "hi"}, "color": {"field": "s", "type": "nominal", "scale": {"domain": ["SKE St. 1", "PRO St. 1", "SKE St. 2", "PRO St. 2"], "range": ["#e5343b", "#e2338b", "#19a347", "#3c2b8c"]}, "legend": null}}},
            {"mark": {"type": "line", "strokeWidth": 1, "clip": true}, "encoding": {"y": {"field": "v", "type": "quantitative", "scale": {"domain": [0, 100], "nice": false}, "axis": {"title": null, "values": [0,10,20,30,40,50,60,70,80,90,100], "labelExpr": "datum.value % 20 === 0 ? datum.label : ''"}}, "color": {"field": "s", "type": "nominal", "scale": {"domain": ["SKE St. 1", "PRO St. 1", "SKE St. 2", "PRO St. 2"], "range": ["#e5343b", "#e2338b", "#19a347", "#3c2b8c"]}, "legend": null}}},
            {"mark": {"type": "point", "filled": true, "strokeWidth": 1.5, "opacity": 1, "size": 48, "clip": true}, "encoding": {"y": {"field": "v", "type": "quantitative", "scale": {"domain": [0, 100], "nice": false}, "axis": {"title": null, "values": [0,10,20,30,40,50,60,70,80,90,100], "labelExpr": "datum.value % 20 === 0 ? datum.label : ''"}},
              "shape": {"field": "s", "type": "nominal", "scale": {"domain": ["SKE St. 1", "PRO St. 1", "SKE St. 2", "PRO St. 2"], "range": ["circle", "circle", "triangle-down", "triangle-down"]}, "legend": null},
              "fill": {"field": "s", "type": "nominal", "scale": {"domain": ["SKE St. 1", "PRO St. 1", "SKE St. 2", "PRO St. 2"], "range": ["#e5343b", "#ffffff", "#19a347", "#ffffff"]}, "legend": null},
              "stroke": {"field": "s", "type": "nominal", "scale": {"domain": ["SKE St. 1", "PRO St. 1", "SKE St. 2", "PRO St. 2"], "range": ["#e5343b", "#e2338b", "#19a347", "#3c2b8c"]}, "legend": null}}}
          ]
        },
        {
          "width": 257, "height": 256,
          "title": {"text": "16 May", "dx": 12, "offset": -46},
          "transform": [{"filter": {"field": "p", "equal": "16 May"}}],
          "encoding": {"x": {"field": "d", "type": "quantitative", "scale": {"domain": [0, 70], "nice": false}, "axis": {"title": null, "values": [0,5,10,15,20,25,30,35,40,45,50,55,60,65,70], "labelExpr": "datum.value % 10 === 0 ? datum.label : ''"}}},
          "layer": [
            {"transform": [{"filter": "isValid(datum.lo)"}], "mark": {"type": "errorbar", "ticks": {"size": 8}, "thickness": 1}, "encoding": {"y": {"field": "lo", "type": "quantitative", "scale": {"domain": [0, 100], "nice": false}, "axis": {"title": null, "values": [0,10,20,30,40,50,60,70,80,90,100], "labelExpr": "datum.value % 20 === 0 ? datum.label : ''"}}, "y2": {"field": "hi"}, "color": {"field": "s", "type": "nominal", "scale": {"domain": ["SKE St. 1", "PRO St. 1", "SKE St. 2", "PRO St. 2"], "range": ["#e5343b", "#e2338b", "#19a347", "#3c2b8c"]}, "legend": null}}},
            {"mark": {"type": "line", "strokeWidth": 1, "clip": true}, "encoding": {"y": {"field": "v", "type": "quantitative", "scale": {"domain": [0, 100], "nice": false}, "axis": {"title": null, "values": [0,10,20,30,40,50,60,70,80,90,100], "labelExpr": "datum.value % 20 === 0 ? datum.label : ''"}}, "color": {"field": "s", "type": "nominal", "scale": {"domain": ["SKE St. 1", "PRO St. 1", "SKE St. 2", "PRO St. 2"], "range": ["#e5343b", "#e2338b", "#19a347", "#3c2b8c"]}, "legend": null}}},
            {"mark": {"type": "point", "filled": true, "strokeWidth": 1.5, "opacity": 1, "size": 48, "clip": true}, "encoding": {"y": {"field": "v", "type": "quantitative", "scale": {"domain": [0, 100], "nice": false}, "axis": {"title": null, "values": [0,10,20,30,40,50,60,70,80,90,100], "labelExpr": "datum.value % 20 === 0 ? datum.label : ''"}},
              "shape": {"field": "s", "type": "nominal", "scale": {"domain": ["SKE St. 1", "PRO St. 1", "SKE St. 2", "PRO St. 2"], "range": ["circle", "circle", "triangle-down", "triangle-down"]}, "legend": null},
              "fill": {"field": "s", "type": "nominal", "scale": {"domain": ["SKE St. 1", "PRO St. 1", "SKE St. 2", "PRO St. 2"], "range": ["#e5343b", "#ffffff", "#19a347", "#ffffff"]}, "legend": null},
              "stroke": {"field": "s", "type": "nominal", "scale": {"domain": ["SKE St. 1", "PRO St. 1", "SKE St. 2", "PRO St. 2"], "range": ["#e5343b", "#e2338b", "#19a347", "#3c2b8c"]}, "legend": null}}}
          ]
        }
      ]
    }
  ]
}
